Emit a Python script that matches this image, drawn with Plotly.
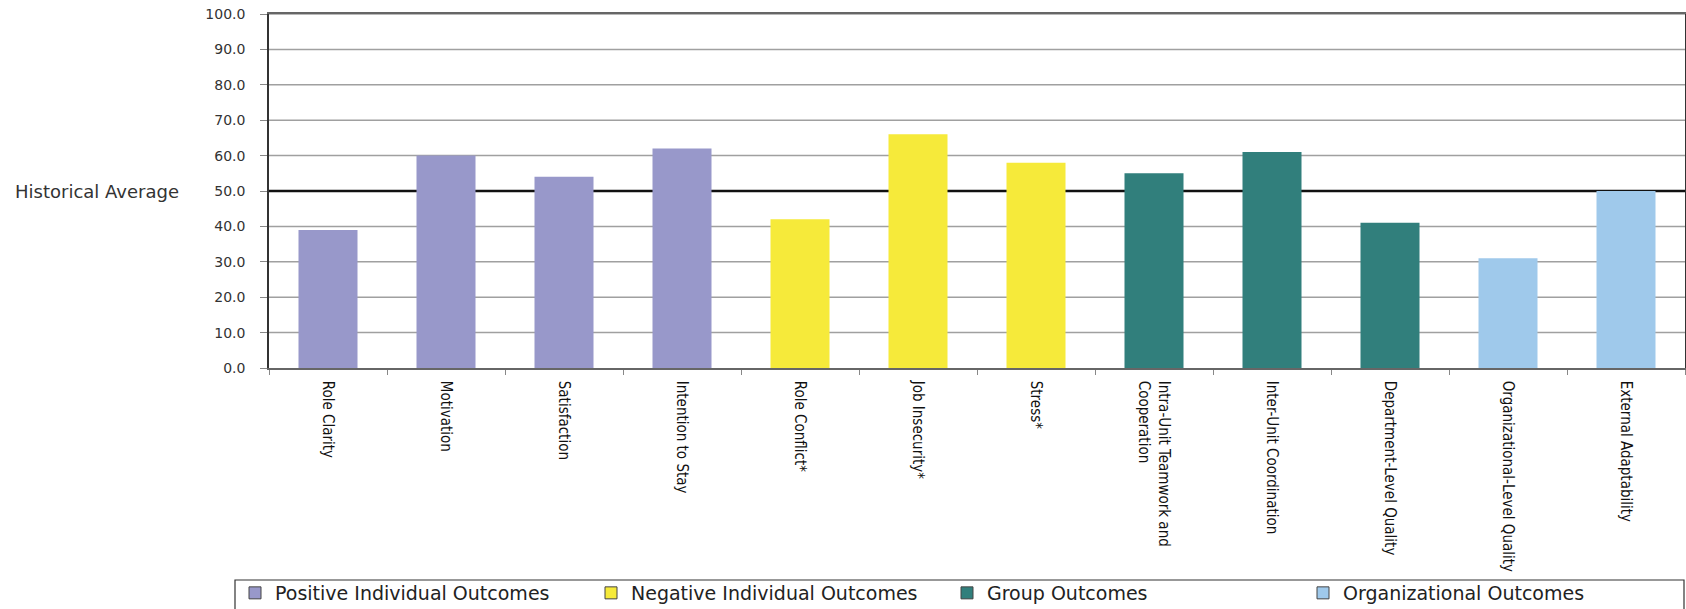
import plotly.graph_objects as go

# Survey outcome scores by dimension
categories = [
    "Role Clarity", "Motivation", "Satisfaction", "Intention to Stay",
    "Role Conflict*", "Job Insecurity*", "Stress*",
    "Intra-Unit Teamwork and<br>Cooperation", "Inter-Unit Coordination",
    "Department-Level Quality",
    "Organizational-Level Quality", "External Adaptability",
]
scores = [39, 60, 54, 62, 42, 66, 58, 55, 61, 41, 31, 50]
category_group = [0, 0, 0, 0, 1, 1, 1, 2, 2, 2, 3, 3]

group_names = [
    "Positive Individual Outcomes",
    "Negative Individual Outcomes",
    "Group Outcomes",
    "Organizational Outcomes",
]
group_colors = ["#9898ca", "#f6ea3a", "#317f7c", "#9fc9eb"]

historical_average = 50
y_ticks = [0, 10, 20, 30, 40, 50, 60, 70, 80, 90, 100]

W, H = 1686, 609
L, R, T, B = 269, 1, 14, 241
plot_w = W - L - R
plot_h = H - T - B


def px_to_paper_x(px):
    return (px - L) / plot_w


def px_to_paper_y(py):
    return (T + plot_h - py) / plot_h


fig = go.Figure()

# Bars, one trace per outcome group
for gi, name in enumerate(group_names):
    xs = [c for c, g in zip(categories, category_group) if g == gi]
    ys = [v for v, g in zip(scores, category_group) if g == gi]
    fig.add_trace(go.Bar(
        x=xs, y=ys, name=name, width=0.5,
        marker=dict(color=group_colors[gi], line=dict(width=0)),
        showlegend=False,
    ))

# Legend swatches with outlined boxes
for gi, name in enumerate(group_names):
    fig.add_trace(go.Bar(
        x=[None], y=[None], name=name,
        marker=dict(color=group_colors[gi], line=dict(color="#444444", width=1)),
        showlegend=True, hoverinfo="skip",
    ))

# Horizontal grid lines behind the bars (the average gets its own dark line)
for yv in y_ticks:
    if yv in (0, historical_average):
        continue
    fig.add_shape(
        type="line", xref="paper", yref="y",
        x0=0, x1=1, y0=yv, y1=yv,
        line=dict(color="#a0a0a0", width=1.5), layer="below",
    )

# Historical average reference line, behind the bars
fig.add_shape(
    type="line", xref="paper", yref="y",
    x0=0, x1=1, y0=historical_average, y1=historical_average,
    line=dict(color="#111111", width=2.5), layer="below",
)

# Frame around the legend row, running across the full width
fig.add_shape(
    type="rect", xref="paper", yref="paper",
    x0=px_to_paper_x(235), x1=px_to_paper_x(1684),
    y0=px_to_paper_y(580), y1=px_to_paper_y(640),
    line=dict(color="#333333", width=1.2), fillcolor="rgba(0,0,0,0)",
    layer="above",
)

fig.add_annotation(
    text="Historical Average", xref="paper", yref="y",
    x=px_to_paper_x(13), y=historical_average,
    xanchor="left", yanchor="middle", showarrow=False,
    font=dict(family="DejaVu Sans", size=18, color="#333333"),
)

fig.update_layout(
    width=W, height=H,
    margin=dict(l=L, r=R, t=T, b=B, pad=0, autoexpand=False),
    paper_bgcolor="white", plot_bgcolor="white",
    barmode="relative",
    showlegend=True,
    legend=dict(
        orientation="h",
        x=px_to_paper_x(235), xanchor="left",
        y=px_to_paper_y(574), yanchor="top",
        borderwidth=0,
        bgcolor="rgba(0,0,0,0)",
        entrywidth=311, entrywidthmode="pixels",
        font=dict(family="DejaVu Sans", size=19, color="#222222"),
        traceorder="normal",
    ),
    xaxis=dict(
        type="category",
        categoryorder="array", categoryarray=categories,
        range=[-0.5, len(categories) - 0.5],
        tickangle=90,
        tickson="boundaries",
        ticks="outside", ticklen=5, tickcolor="#888888",
        ticklabelstandoff=8,
        automargin=False,
        showline=True, linecolor="#666666", linewidth=1.5, mirror=True,
        showgrid=False,
        tickfont=dict(family="DejaVu Sans Condensed", size=15, color="#111111"),
    ),
    yaxis=dict(
        range=[0, 100],
        tickvals=y_ticks,
        tickformat=".1f",
        ticks="outside", ticklen=7, tickcolor="#888888",
        ticklabelstandoff=12,
        automargin=False,
        showline=True, linecolor="#333333", linewidth=1.5, mirror=True,
        showgrid=False,
        zeroline=False,
        tickfont=dict(family="DejaVu Sans", size=14, color="#333333"),
    ),
)

fig.write_html("out.html")
